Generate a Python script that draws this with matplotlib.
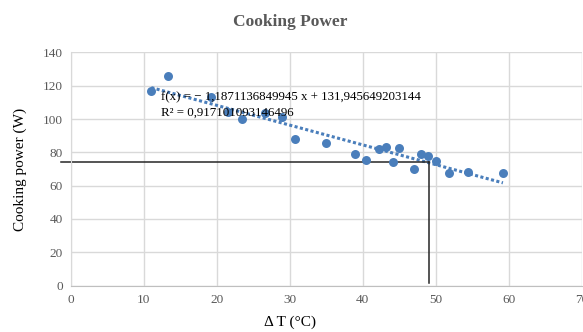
import matplotlib.pyplot as plt
import numpy as np

# measured points (delta T in degC, cooking power in W)
delta_t = [11.0, 13.3, 19.2, 21.5, 23.5, 26.6, 28.9, 30.7, 35.0, 38.9, 40.4,
           42.2, 43.2, 44.9, 44.2, 47.0, 48.0, 48.9, 50.0, 51.8, 54.4, 59.2]
power = [116.8, 126.0, 113.0, 104.4, 100.0, 103.4, 101.4, 88.2, 85.8, 79.0, 75.6,
         82.0, 83.0, 82.4, 74.4, 70.0, 79.0, 78.0, 75.0, 67.8, 68.4, 67.8]

# linear trend from the spreadsheet
slope = -1.1871136849945
intercept = 131.945649203144
r2 = 0.917101093146496

# standardised point
std_dt = 49.0
std_power = 74.4

blue = '#4a7ebb'
grey = '#595959'
serif = ['Liberation Serif', 'DejaVu Serif']

fig = plt.figure(figsize=(5.83, 3.32), dpi=100)
ax = fig.add_axes([0.1218, 0.140, 0.876, 0.702])

ax.scatter(delta_t, power, s=42, color=blue, zorder=3, linewidths=0)

xt = np.array([min(delta_t), max(delta_t)])
ax.plot(xt, slope * xt + intercept, color=blue, linestyle=(0, (1, 0.8)),
        linewidth=2.2, zorder=2)

ax.plot([-1.4, std_dt], [std_power, std_power], color='#262626', linewidth=1.1,
        zorder=2.5, clip_on=False)
ax.plot([std_dt, std_dt], [std_power, 1.5], color='#262626', linewidth=1.1, zorder=2.5)

ax.text(12.4, 113, 'f(x) = \u2212 1,1871136849945 x + 131,945649203144',
        family=serif, fontsize=9.3, color='black', va='center', zorder=4)
ax.text(12.4, 103.5, 'R\u00b2 = 0,917101093146496',
        family=serif, fontsize=9.3, color='black', va='center', zorder=4)

ax.set_xlim(0, 70)
ax.set_ylim(0, 140)
ax.set_xticks(range(0, 71, 10))
ax.set_yticks(range(0, 141, 20))
ax.grid(True, color='#d9d9d9', linewidth=1)
ax.set_axisbelow(True)
for s in ['top', 'right']:
    ax.spines[s].set_visible(False)
ax.spines['left'].set_color('#d9d9d9')
ax.spines['bottom'].set_color('#bfbfbf')
ax.tick_params(length=0, colors=grey, labelsize=9.5, pad=6)
for lab in ax.get_xticklabels() + ax.get_yticklabels():
    lab.set_family(serif)

fig.text(0.497, 0.935, 'Cooking Power', ha='center', va='center', family=serif,
         fontsize=12.5, fontweight='bold', color=grey)
fig.text(0.497, 0.03, '\u0394 T (\u00b0C)', ha='center', va='center', family=serif,
         fontsize=11, color='black')
fig.text(0.035, 0.49, 'Cooking power (W)', ha='center', va='center', family=serif,
         fontsize=11, color='black', rotation=90)

fig.savefig('out.png', dpi=100)
